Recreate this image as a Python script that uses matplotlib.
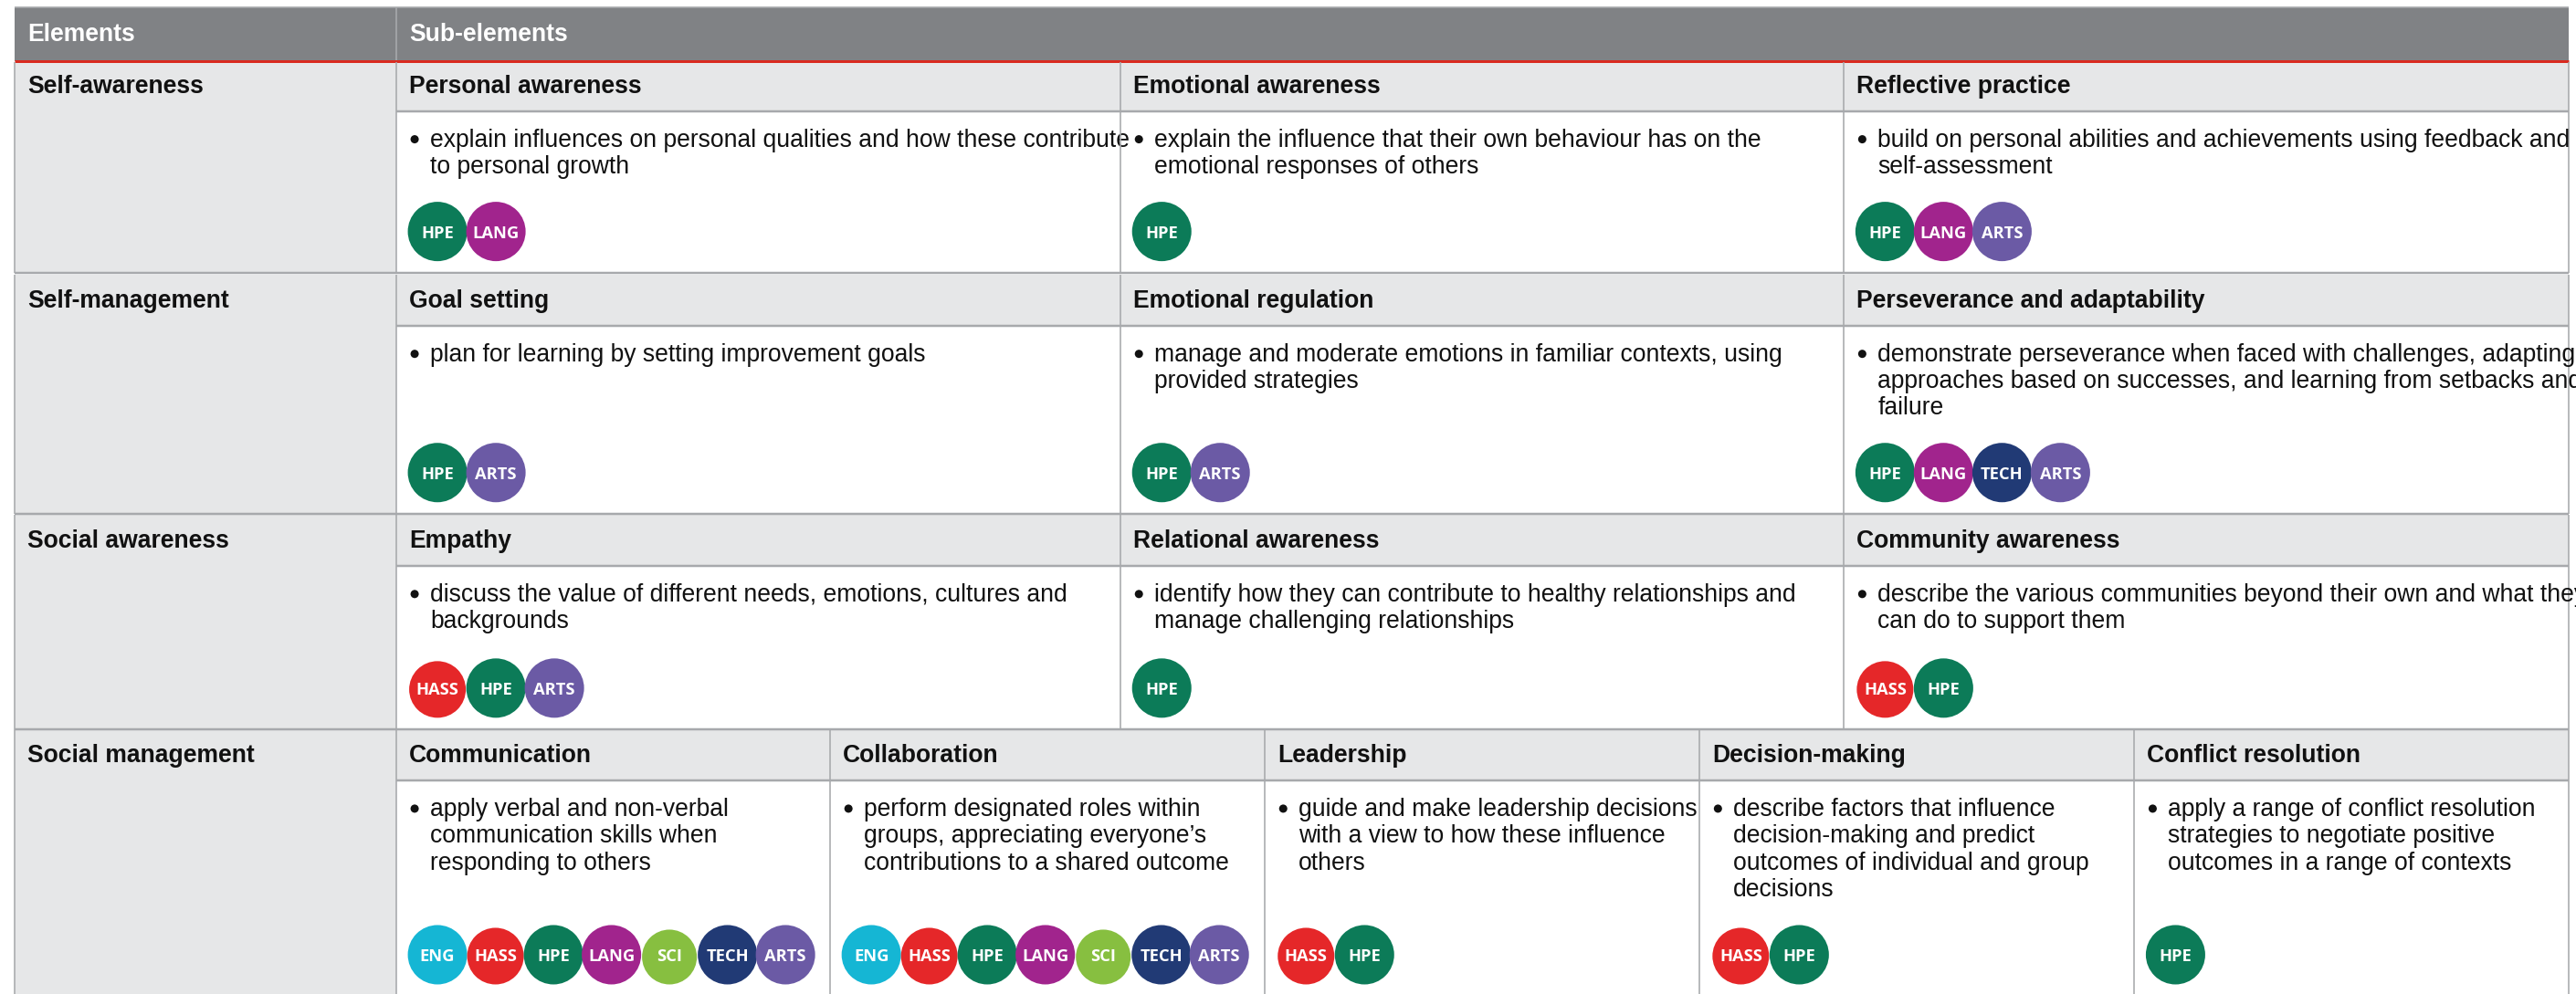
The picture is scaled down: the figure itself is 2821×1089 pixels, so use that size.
import matplotlib
matplotlib.use("Agg")
from matplotlib import pyplot as plt
from matplotlib.patches import Circle, Rectangle

# table content
header = ["Elements", "Sub-elements"]
elements = ["Self-awareness", "Self-management", "Social awareness", "Social management"]

sub_titles = [
    ["Personal awareness", "Emotional awareness", "Reflective practice"],
    ["Goal setting", "Emotional regulation", "Perseverance and adaptability"],
    ["Empathy", "Relational awareness", "Community awareness"],
    ["Communication", "Collaboration", "Leadership", "Decision-making", "Conflict resolution"],
]
sub_lines = [
    [["explain influences on personal qualities and how these contribute", "to personal growth"],
     ["explain the influence that their own behaviour has on the", "emotional responses of others"],
     ["build on personal abilities and achievements using feedback and", "self-assessment"]],
    [["plan for learning by setting improvement goals"],
     ["manage and moderate emotions in familiar contexts, using", "provided strategies"],
     ["demonstrate perseverance when faced with challenges, adapting",
      "approaches based on successes, and learning from setbacks and", "failure"]],
    [["discuss the value of different needs, emotions, cultures and", "backgrounds"],
     ["identify how they can contribute to healthy relationships and", "manage challenging relationships"],
     ["describe the various communities beyond their own and what they", "can do to support them"]],
    [["apply verbal and non-verbal", "communication skills when", "responding to others"],
     ["perform designated roles within", "groups, appreciating everyone\u2019s", "contributions to a shared outcome"],
     ["guide and make leadership decisions", "with a view to how these influence", "others"],
     ["describe factors that influence", "decision-making and predict", "outcomes of individual and group", "decisions"],
     ["apply a range of conflict resolution", "strategies to negotiate positive", "outcomes in a range of contexts"]],
]
sub_tags = [
    [["HPE", "LANG"], ["HPE"], ["HPE", "LANG", "ARTS"]],
    [["HPE", "ARTS"], ["HPE", "ARTS"], ["HPE", "LANG", "TECH", "ARTS"]],
    [["HASS", "HPE", "ARTS"], ["HPE"], ["HASS", "HPE"]],
    [["ENG", "HASS", "HPE", "LANG", "SCI", "TECH", "ARTS"],
     ["ENG", "HASS", "HPE", "LANG", "SCI", "TECH", "ARTS"],
     ["HASS", "HPE"], ["HASS", "HPE"], ["HPE"]],
]

# styles
tag_colors = {"ENG": "#15b6d4", "HASS": "#e52729", "HPE": "#0c7b58", "LANG": "#a1248d",
              "SCI": "#87bf40", "TECH": "#213a75", "ARTS": "#6b5aa5"}
tag_radius = {"HASS": 31, "SCI": 30}
LINE = "#a7a9ac"
HEAD = "#808285"
SHADE = "#e6e7e8"
RED = "#d92b20"

# layout in pixels
LEFT, RIGHT, TOP, BOTTOM = 16, 2813, 8, 1089
COL = 434
RED_Y = 67
row_tops = [68, 301, 564, 799]
row_subs = [122, 357, 620, 855]
row_ends = [299, 563, 799, 1091]
col3 = [434, 1227, 2019, 2813]
col5 = [434, 909, 1385, 1861, 2337, 2813]
LINE_H = 29.3

plt.rcParams['font.family'] = ['Liberation Sans', 'DejaVu Sans']

fig = plt.figure(figsize=(28.215, 10.895), dpi=100)
ax = fig.add_axes([0, 0, 1, 1])
ax.set_xlim(0, 2821)
ax.set_ylim(1089, 0)
ax.axis('off')

FS = 19.1
TAG_FS = 13.2


def hline(x0, x1, y, px=2.5, color=LINE):
    ax.plot([x0, x1], [y, y], color=color, lw=px * 0.72, solid_capstyle='butt', zorder=3)


def vline(x, y0, y1, px=1.6, color=LINE):
    ax.plot([x, x], [y0, y1], color=color, lw=px * 0.72, solid_capstyle='butt', zorder=3)


# header band
ax.add_patch(Rectangle((LEFT, TOP), RIGHT - LEFT, RED_Y - TOP, fc=HEAD, ec='none'))
vline(COL, TOP, RED_Y, color="#a9abae")
hline(LEFT, RIGHT, TOP, px=1.6)
hline(LEFT, RIGHT, RED_Y, px=3, color=RED)
ax.text(LEFT + 14, 45, header[0], color='white', fontsize=FS, fontweight='bold')
ax.text(COL + 14, 45, header[1], color='white', fontsize=FS, fontweight='bold')

for r, name in enumerate(elements):
    top, sub, end = row_tops[r], row_subs[r], row_ends[r]
    edges = col5 if len(sub_titles[r]) == 5 else col3
    ax.add_patch(Rectangle((LEFT, top), COL - LEFT, end - top, fc=SHADE, ec='none'))
    ax.add_patch(Rectangle((COL, top), RIGHT - COL, sub - top, fc=SHADE, ec='none'))
    ax.text(LEFT + 14, sub - 20, name, fontsize=FS, fontweight='bold', color='#111111')
    hline(COL, RIGHT, sub)
    if r < 3:
        hline(LEFT, RIGHT, end)
    vline(LEFT, top, min(end, BOTTOM))
    vline(RIGHT, top, min(end, BOTTOM))
    for c, title in enumerate(sub_titles[r]):
        x = edges[c]
        vline(x, top, min(end, BOTTOM))
        ax.text(x + 14, sub - 20, title, fontsize=FS, fontweight='bold', color='#111111')
        ax.add_patch(Circle((x + 20, sub + 31), 4.5, fc='#111111', ec='none', zorder=4))
        for i, line in enumerate(sub_lines[r][c]):
            ax.text(x + 37, sub + 38.5 + i * LINE_H, line, fontsize=FS, color='#111111')
        for i, tag in enumerate(sub_tags[r][c]):
            cx = x + 45 + i * (63.5 if len(sub_tags[r][c]) > 4 else 64)
            cy = end - 45
            rad = tag_radius.get(tag, 32.5)
            ax.add_patch(Circle((cx, cy + 32.5 - rad), rad, fc=tag_colors[tag], ec='none', zorder=4))
            ax.text(cx, cy + 2, tag, color='white', fontsize=TAG_FS, fontweight='bold',
                    family=['Open Sans', 'DejaVu Sans'], ha='center', va='center', zorder=5)

fig.savefig('out.png', dpi=100)
